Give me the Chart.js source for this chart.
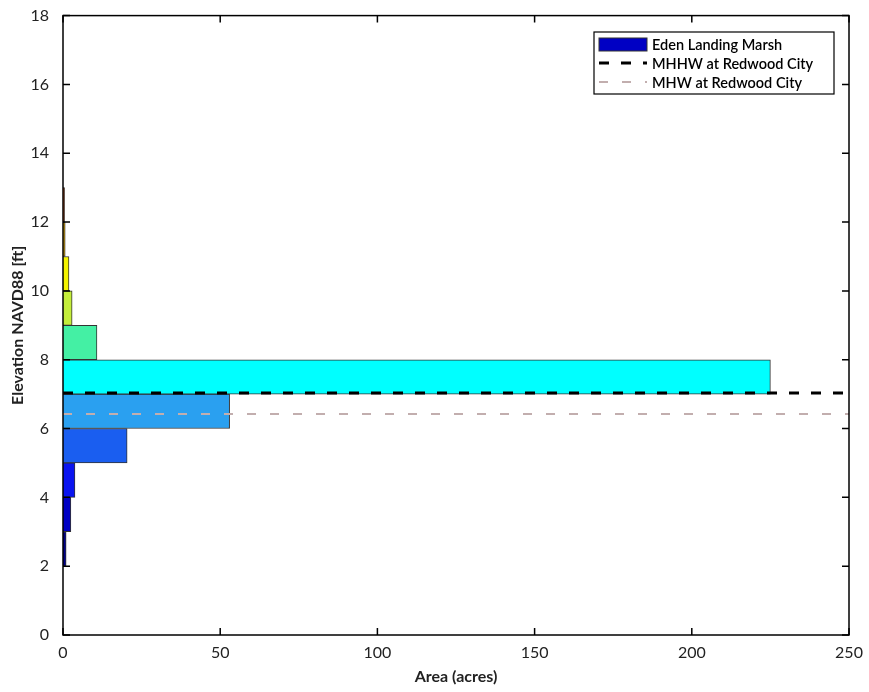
<!DOCTYPE html>
<html>
<head>
<meta charset="utf-8">
<script src="https://cdn.jsdelivr.net/npm/chart.js@4/dist/chart.umd.min.js"></script>
<style>
  html, body { margin: 0; padding: 0; background: #fff; }
</style>
</head>
<body>
<canvas id="myChart" width="869" height="692"></canvas>
<script>
// histogram bins (1 ft), centre of each bin
const binMids = [2.5, 3.5, 4.5, 5.5, 6.5, 7.5, 8.5, 9.5, 10.5, 11.5, 12.5]
// area per bin, acres
const areas = [1.0, 2.5, 3.8, 20.4, 53, 225, 10.8, 2.9, 1.9, 0.7, 0.5]
const binColors = ['#00008c', '#0000c4', '#0a14f0', '#1a5ef0', '#2aa0f0', '#00ffff',
                   '#44f0a4', '#c4ee3a', '#f4f400', '#e8b000', '#e05010']
const mhhw = 7.03
const mhw = 6.42
const xTicks = [0, 50, 100, 150, 200, 250]
const yTicks = [0, 2, 4, 6, 8, 10, 12, 14, 16, 18]

const legendItems = [
  { text: 'Eden Landing Marsh', kind: 'box', color: '#0000c4' },
  { text: 'MHHW at Redwood City', kind: 'dash', color: '#000000', width: 3, dash: [10, 12] },
  { text: 'MHW at Redwood City', kind: 'dash', color: '#c2aeae', width: 2, dash: [9, 14] }
]

const FONT = 'Lato, "Open Sans", sans-serif'

// box round plot area, inward ticks on all 4 sides, and legend
const frame = {
  id: 'frame',
  afterDraw(chart) {
    const ctx = chart.ctx
    const a = chart.chartArea
    const xs = chart.scales.x, ys = chart.scales.y
    ctx.save()
    ctx.strokeStyle = '#000'
    ctx.lineWidth = 1.5
    ctx.strokeRect(a.left, a.top, a.right - a.left, a.bottom - a.top)
    ctx.beginPath()
    xTicks.forEach(v => {
      const p = xs.getPixelForValue(v)
      ctx.moveTo(p, a.bottom); ctx.lineTo(p, a.bottom - 7)
      ctx.moveTo(p, a.top); ctx.lineTo(p, a.top + 7)
    })
    yTicks.forEach(v => {
      const p = ys.getPixelForValue(v)
      ctx.moveTo(a.left, p); ctx.lineTo(a.left + 7, p)
      ctx.moveTo(a.right, p); ctx.lineTo(a.right - 7, p)
    })
    ctx.stroke()

    // legend
    const lx = 594, ly = 32, lw = 240, lh = 62
    ctx.fillStyle = '#fff'
    ctx.fillRect(lx, ly, lw, lh)
    ctx.lineWidth = 1.2
    ctx.strokeStyle = '#000'
    ctx.strokeRect(lx, ly, lw, lh)
    ctx.font = '600 14.5px ' + FONT
    ctx.textBaseline = 'middle'
    legendItems.forEach((it, i) => {
      const cy = ly + 12 + i * 19
      if (it.kind == 'box') {
        ctx.fillStyle = it.color
        ctx.fillRect(lx + 5, cy - 6, 48, 13)
        ctx.strokeStyle = '#333'
        ctx.lineWidth = 1
        ctx.strokeRect(lx + 5, cy - 6, 48, 13)
      } else {
        ctx.strokeStyle = it.color
        ctx.lineWidth = it.width
        ctx.setLineDash(it.dash)
        ctx.beginPath()
        ctx.moveTo(lx + 5, cy); ctx.lineTo(lx + 53, cy)
        ctx.stroke()
        ctx.setLineDash([])
      }
      ctx.fillStyle = '#000'
      ctx.fillText(it.text, lx + 58, cy + 1)
    })
    ctx.restore()
  }
}

const config = {
  type: 'bar',
  data: {
    datasets: [
      {
        type: 'line',
        label: 'MHHW at Redwood City',
        data: [{ x: 0, y: mhhw }, { x: 250, y: mhhw }],
        borderColor: '#000',
        borderWidth: 3,
        borderDash: [10, 12],
        pointRadius: 0,
        order: 0
      },
      {
        type: 'line',
        label: 'MHW at Redwood City',
        data: [{ x: 0, y: mhw }, { x: 250, y: mhw }],
        borderColor: '#c2aeae',
        borderWidth: 2,
        borderDash: [9, 14],
        pointRadius: 0,
        order: 0
      },
      {
        type: 'bar',
        label: 'Eden Landing Marsh',
        indexAxis: 'y',
        data: binMids.map((m, i) => ({ x: areas[i], y: m })),
        backgroundColor: binColors,
        borderColor: '#333',
        borderWidth: 1,
        borderSkipped: 'start',
        barPercentage: 1,
        categoryPercentage: 1,
        order: 1
      }
    ]
  },
  options: {
    responsive: false,
    animation: false,
    devicePixelRatio: 1,
    layout: { padding: { left: 8, right: 20, top: 15, bottom: 6 } },
    plugins: {
      legend: { display: false },
      tooltip: { enabled: false }
    },
    scales: {
      x: {
        type: 'linear',
        min: 0,
        max: 250,
        offset: false,
        ticks: { stepSize: 50, color: '#222', font: { family: FONT, size: 16 }, padding: 0, maxRotation: 0 },
        grid: { display: false, offset: false },
        border: { display: false },
        title: { display: true, text: 'Area (acres)', color: '#222', font: { family: FONT, size: 16, weight: 'bold' }, padding: { top: 2, bottom: 0 } },
        afterFit: s => { s.height = 51 }
      },
      y: {
        type: 'linear',
        min: 0,
        max: 18,
        offset: false,
        ticks: { stepSize: 2, color: '#222', font: { family: FONT, size: 16 }, padding: 6 },
        grid: { display: false, offset: false },
        border: { display: false },
        title: { display: true, text: 'Elevation NAVD88 [ft]', color: '#222', font: { family: FONT, size: 16, weight: 'bold' }, padding: { top: 0, bottom: 4 } },
        afterFit: s => { s.width = 55 }
      }
    }
  },
  plugins: [frame]
}

const myChart = new Chart(document.getElementById('myChart'), config)
</script>
</body>
</html>
